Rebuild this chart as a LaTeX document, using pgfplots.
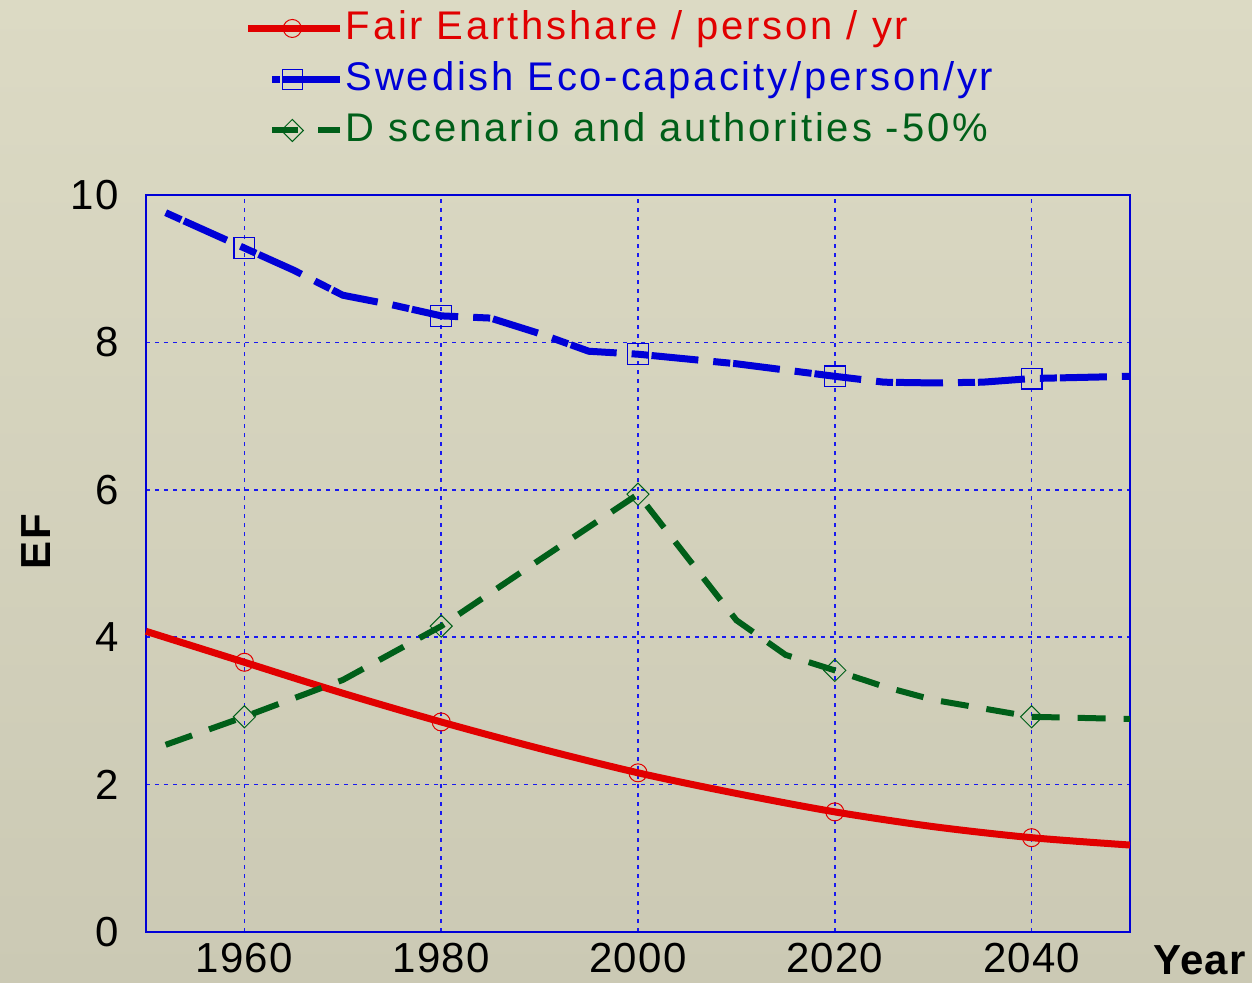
\documentclass[border=0pt]{standalone}
\usepackage{pgfplots}
\pgfplotsset{compat=1.18}
\usepackage{fontspec}
\setmainfont{Liberation Sans}
\newfontfamily\legfont[LetterSpace=7]{Liberation Sans}
\definecolor{cred}{RGB}{225,0,0}
\definecolor{cblue}{RGB}{0,0,215}
\definecolor{cgreen}{RGB}{0,95,25}
\definecolor{gridblue}{RGB}{25,25,240}
\pgfplotsset{
  legA/.style={legend image code/.code={\draw[##1, mark repeat=2, mark phase=2] plot coordinates {(-22pt,0pt)(0pt,0pt)(24pt,0pt)};}},
  legB/.style={legend image code/.code={\draw[##1, mark repeat=2, mark phase=2] plot coordinates {(-10pt,0pt)(0pt,0pt)(24pt,0pt)};}},
}
\begin{document}
\begin{tikzpicture}
\path[use as bounding box, top color={rgb,255:red,220;green,218;blue,196}, bottom color={rgb,255:red,203;green,201;blue,180}]
  (-73pt,-25pt) rectangle (553pt,466pt);
\begin{axis}[
  scale only axis, width=492pt, height=368.5pt,
  at={(0,0)}, anchor=south west,
  xmin=1950, xmax=2050, ymin=0, ymax=10,
  xtick={1960,1980,2000,2020,2040},
  ytick={0,2,4,6,8,10},
  major tick length=0pt,
  grid=major,
  major grid style={gridblue, line width=0.75pt, dash pattern=on 2pt off 2.5pt},
  axis line style={cblue, line width=0.6pt},
  /pgf/number format/assume math mode=true,
  /pgf/number format/1000 sep={},
  tick label style={font=\fontsize{21}{24}\selectfont\addfontfeature{LetterSpace=3}, black},
  yticklabel style={xshift=-10pt},
  xticklabel style={yshift=-2pt},
  legend style={at={(axis description cs:0.1,1.255)}, anchor=north west, draw=none, fill=none,
    inner sep=0pt, row sep=4.5pt, font=\fontsize{20}{23}\selectfont\legfont,
    nodes={inner sep=1pt, text height=15pt, text depth=4pt}},
  legend cell align=left,
  clip=false,
]
\addlegendimage{cred, line width=3.5pt, mark=o, mark size=4.5pt, mark options={line width=0.5pt, fill=none, solid}, legA}
\addlegendentry{\textcolor{cred}{Fair Earthshare / person / yr}}
\addlegendimage{cblue, line width=3.5pt, dash pattern=on 4pt off 1.5pt on 40pt, mark=square, mark size=5pt, mark options={line width=0.6pt, fill=none, solid}, legB}
\addlegendentry{\textcolor{cblue}{Swedish Eco-capacity/person/yr}}
\addlegendimage{cgreen, line width=3pt, dash pattern=on 13pt off 10pt on 40pt, mark=square, mark size=3.9pt, mark options={line width=0.5pt, fill=none, solid, rotate=45}, legB}
\addlegendentry{\textcolor{cgreen}{D scenario and authorities -50\%}}

\addplot[cred, line width=3.5pt, smooth, forget plot] coordinates {
 (1950,4.08) (1960,3.66) (1970,3.24) (1980,2.85) (1990,2.49) (2000,2.16)
 (2010,1.88) (2020,1.63) (2030,1.43) (2040,1.28) (2050,1.18)};
\addplot[cblue, line width=3.5pt, dash pattern=on 8.5pt off 1.5pt on 23.5pt off 7.5pt, forget plot] coordinates {
 (1952,9.76) (1960,9.28) (1965,8.98) (1970,8.64) (1975,8.51) (1980,8.36) (1985,8.33)
 (1990,8.12) (1995,7.88) (2000,7.84) (2010,7.71) (2020,7.54) (2025,7.46) (2030,7.45)
 (2035,7.46) (2040,7.51) (2050,7.54)};
\addplot[cgreen, line width=3pt, dash pattern=on 14pt off 9pt, forget plot] coordinates {
 (1952,2.54) (1960,2.92) (1970,3.42) (1980,4.15) (1990,5.05) (2000,5.94)
 (2010,4.23) (2015,3.76) (2020,3.55) (2025,3.33) (2030,3.15) (2040,2.92) (2050,2.89)};
\addplot[only marks, cred, mark=o, mark size=4.5pt, mark options={line width=0.5pt}, forget plot] coordinates {
 (1960,3.66) (1980,2.85) (2000,2.16) (2020,1.63) (2040,1.28)};
\addplot[only marks, cblue, mark=square, mark size=5.2pt, mark options={line width=0.6pt}, forget plot] coordinates {
 (1960,9.28) (1980,8.36) (2000,7.84) (2020,7.54) (2040,7.51)};
\addplot[only marks, cgreen, mark=square, mark size=3.9pt, mark options={line width=0.5pt, rotate=45}, forget plot] coordinates {
 (1960,2.92) (1980,4.15) (2000,5.94) (2020,3.55) (2040,2.92)};

\node[rotate=90, font=\fontsize{21}{24}\selectfont\bfseries\addfontfeature{LetterSpace=4}, anchor=center] at (axis description cs:-0.112,0.53) {EF};
\node[font=\fontsize{21}{24}\selectfont\bfseries\addfontfeature{LetterSpace=3}, anchor=west] at ([xshift=8pt, yshift=-14pt]rel axis cs:1,0) {Year};
\end{axis}
\end{tikzpicture}
\end{document}
